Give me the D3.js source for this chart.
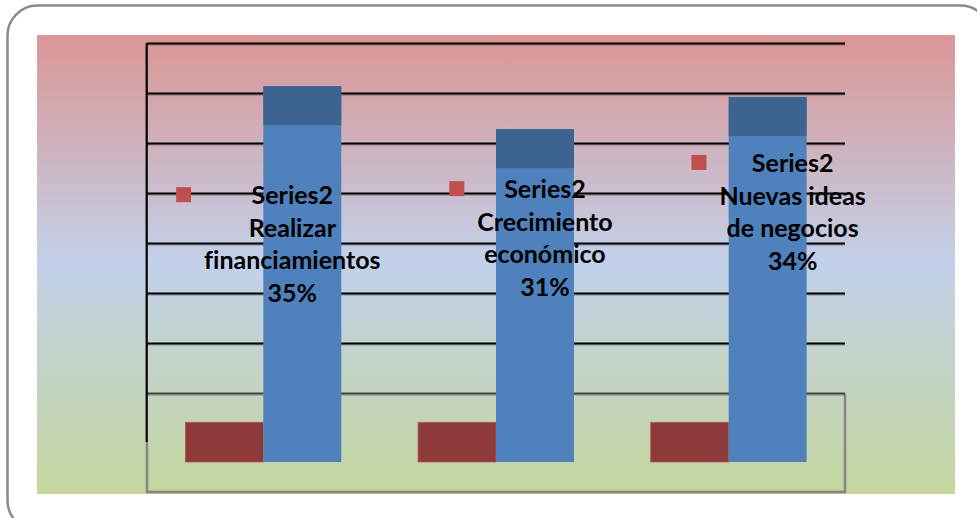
<!DOCTYPE html>
<html>
<head>
<meta charset="utf-8">
<script src="https://cdn.jsdelivr.net/npm/d3@7"></script>
<style>
  html, body { margin: 0; padding: 0; background: #fff; }
  svg { display: block; }
  text { font-variant-ligatures: none; font-feature-settings: "liga" 0; }
</style>
</head>
<body>
<script>
// Datos del gráfico
const categories = ['Realizar financiamientos', 'Crecimiento económico', 'Nuevas ideas de negocios'];
const seriesNames = ['Series1', 'Series2'];
const series1 = [3.7, 3.7, 3.7];
const series2 = [35, 31, 34];
const gridTicks = [0, 0.05, 0.10, 0.15, 0.20, 0.25, 0.30, 0.35];

const WIDTH  = 977;
const HEIGHT = 518;

// Ajustes de posición de las etiquetas (como las dejó Excel)
const LABEL_DX = [-10, 10, 25];
const LABEL_DY = [118, 69, 75];

const svg = d3.select('body').append('svg')
    .attr('width', WIDTH)
    .attr('height', HEIGHT);

// Marco redondeado de la diapositiva
svg.append('rect')
    .attr('x', 7.5).attr('y', 5.5)
    .attr('width', 983).attr('height', 525)
    .attr('rx', 30)
    .attr('fill', '#fff')
    .attr('stroke', '#8a8a8a')
    .attr('stroke-width', 2.5);

// Fondo degradado rojo - azul - verde
const defs = svg.append('defs');
const grad = defs.append('linearGradient')
    .attr('id', 'bg').attr('x1', 0).attr('y1', 0).attr('x2', 0).attr('y2', 1);
grad.append('stop').attr('offset', '0%').attr('stop-color', '#da9594');
grad.append('stop').attr('offset', '50%').attr('stop-color', '#c2d1ea');
grad.append('stop').attr('offset', '100%').attr('stop-color', '#c4d69d');

svg.append('rect')
    .attr('x', 37).attr('y', 35)
    .attr('width', 918).attr('height', 459)
    .attr('fill', 'url(#bg)');

// Escalas
const x0 = d3.scaleBand()
    .domain(categories)
    .range([147, 845])
    .paddingInner(0.33)
    .paddingOuter(0.165);

const x1 = d3.scaleBand()
    .domain(seriesNames)
    .range([0, x0.bandwidth()]);

const y = d3.scaleLinear().domain([0, 35]).range([462, 86.2]);
const yGrid = d3.scaleLinear().domain([0, 0.35]).range([393.5, 43.5]);

// Piso (caja 3D)
const floor = svg.append('g');
floor.append('path')
    .attr('d', `M147,442 V492 H845 V${yGrid(0)}`)
    .attr('fill', 'none')
    .attr('stroke', '#858585')
    .attr('stroke-width', 2.5);

// Líneas de división
const grid = svg.append('g');
grid.selectAll('line.shadow')
    .data(gridTicks)
    .join('line')
    .attr('class', 'shadow')
    .attr('x1', 147).attr('x2', 845)
    .attr('y1', d => yGrid(d) + 1.5).attr('y2', d => yGrid(d) + 1.5)
    .attr('stroke', 'rgba(0,0,0,0.22)')
    .attr('stroke-width', 1.5);
grid.selectAll('line.main')
    .data(gridTicks)
    .join('line')
    .attr('class', 'main')
    .attr('x1', 147).attr('x2', 845)
    .attr('y1', d => yGrid(d)).attr('y2', d => yGrid(d))
    .attr('stroke', d => d === 0 ? '#444' : '#000')
    .attr('stroke-width', 2);

// Eje vertical
svg.append('line')
    .attr('x1', 146.7).attr('x2', 146.7)
    .attr('y1', 43).attr('y2', 442)
    .attr('stroke', '#000')
    .attr('stroke-width', 2.2);

// Barras Series1 (rojo oscuro)
svg.append('g').selectAll('rect')
    .data(series1)
    .join('rect')
    .attr('x', (d, i) => x0(categories[i]) + x1('Series1'))
    .attr('y', d => y(d))
    .attr('width', x1.bandwidth())
    .attr('height', d => y(0) - y(d))
    .attr('fill', '#8e3a3a')
    .attr('stroke', '#b05a5a')
    .attr('stroke-width', 0.8);

// Barras Series2 (azul) con la cara superior oscura
const CAP = 39;
const bars = svg.append('g');
bars.selectAll('rect.body')
    .data(series2)
    .join('rect')
    .attr('class', 'body')
    .attr('x', (d, i) => x0(categories[i]) + x1('Series2'))
    .attr('y', d => y(d))
    .attr('width', x1.bandwidth())
    .attr('height', d => y(0) - y(d))
    .attr('fill', '#4f81bd');
bars.selectAll('rect.cap')
    .data(series2)
    .join('rect')
    .attr('class', 'cap')
    .attr('x', (d, i) => x0(categories[i]) + x1('Series2'))
    .attr('y', d => y(d))
    .attr('width', x1.bandwidth())
    .attr('height', CAP)
    .attr('fill', '#3d6491');

// Etiquetas de datos
const wrap = (s, max) => {
    const lines = [];
    let cur = '';
    s.split(' ').forEach(w => {
        if (cur && (cur + ' ' + w).length > max) { lines.push(cur); cur = w; }
        else cur = cur ? cur + ' ' + w : w;
    });
    if (cur) lines.push(cur);
    return lines;
};

const LINE_H = 32.6;
const labels = svg.append('g')
    .attr('font-family', 'Lato, "Open Sans", sans-serif')
    .attr('font-weight', 'bold')
    .attr('font-size', 25)
    .attr('fill', '#000');

series2.forEach((v, i) => {
    const cx = x0(categories[i]) + x1('Series2') + x1.bandwidth() / 2 + LABEL_DX[i];
    const base = y(v) + LABEL_DY[i];
    const lines = [seriesNames[1], ...wrap(categories[i], 12), `${v}%`];
    const t = labels.append('text')
        .attr('text-anchor', 'middle');
    lines.forEach((ln, k) => {
        t.append('tspan')
            .attr('x', cx)
            .attr('y', base + k * LINE_H)
            .text(ln);
    });
    // marcador de leyenda a la izquierda de la línea más ancha
    const bb = t.node().getBBox();
    labels.append('rect')
        .attr('x', bb.x - 13 - 15)
        .attr('y', base - 17)
        .attr('width', 15)
        .attr('height', 15)
        .attr('fill', '#c0504d');
});
</script>
</body>
</html>
